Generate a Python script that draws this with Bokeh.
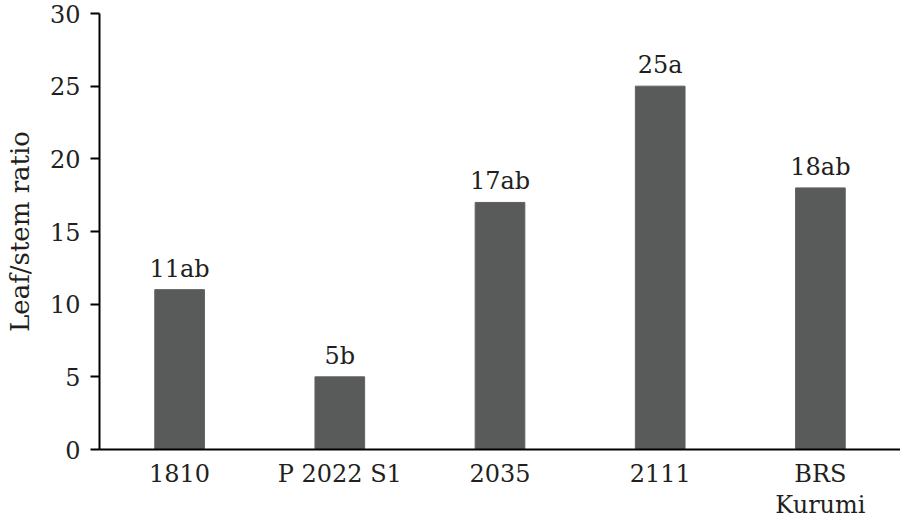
from bokeh.plotting import figure
from bokeh.models import (ColumnDataSource, LabelSet, FactorRange, Range1d, FixedTicker,
                          CategoricalAxis, CustomJSTickFormatter)
from bokeh.core.properties import value
from bokeh.embed import file_html
from bokeh.resources import INLINE

cultivars = ["1810", "P 2022 S1", "2035", "2111", "BRS Kurumi"]
tick_line1 = ["1810", "P 2022 S1", "2035", "2111", "BRS"]
tick_line2 = ["", "", "", "", "Kurumi"]
ratio = [11, 5, 17, 25, 18]
letters = ["ab", "b", "ab", "a", "ab"]
y_ticks = [0, 5, 10, 15, 20, 25, 30]
y_title = "Leaf/stem ratio"

labels = [f"{v}{l}" for v, l in zip(ratio, letters)]
src = ColumnDataSource(dict(cat=cultivars, val=ratio, lab=labels))

FONT = "DejaVu Serif"
TXT = "#231f20"
FS = "24px"

p = figure(x_range=FactorRange(*cultivars, range_padding=0), y_range=Range1d(0, 30),
           width=900, height=521, output_backend="svg", toolbar_location=None,
           min_border_left=99, min_border_right=0, min_border_top=13, min_border_bottom=72)
p.outline_line_color = None
p.xgrid.grid_line_color = None
p.ygrid.grid_line_color = None

p.vbar(x="cat", top="val", width=0.31, source=src, fill_color="#595b5a", line_color="#5e605f", line_width=1)

p.add_layout(LabelSet(x="cat", y="val", text="lab", source=src, y_offset=13,
                      text_align="center", text_baseline="alphabetic",
                      text_font=value(FONT), text_font_size=value(FS), text_color=TXT))

p.yaxis.ticker = FixedTicker(ticks=y_ticks)
p.yaxis.axis_label = y_title
p.yaxis.axis_label_text_font = FONT
p.yaxis.axis_label_text_font_size = "26px"
p.yaxis.axis_label_text_font_style = "normal"
p.yaxis.axis_label_text_color = TXT
p.yaxis.axis_label_standoff = 12
p.yaxis.major_label_text_font = FONT
p.yaxis.major_label_text_font_size = FS
p.yaxis.major_label_text_color = TXT
p.yaxis.major_label_standoff = 10
p.yaxis.major_tick_out = 9
p.yaxis.major_tick_in = 0
p.yaxis.minor_tick_line_color = None
p.yaxis.axis_line_color = "black"
p.yaxis.axis_line_width = 2
p.yaxis.major_tick_line_width = 2

p.xaxis.formatter = CustomJSTickFormatter(args=dict(f=cultivars, l=tick_line1),
                                          code="return l[f.indexOf(tick)];")
p.xaxis.major_label_text_font = FONT
p.xaxis.major_label_text_font_size = FS
p.xaxis.major_label_text_color = TXT
p.xaxis.major_label_standoff = 10
p.xaxis.major_tick_line_color = None
p.xaxis.major_tick_out = 0
p.xaxis.major_tick_in = 0
p.xaxis.minor_tick_line_color = None
p.xaxis.axis_line_color = "black"
p.xaxis.axis_line_width = 2

ax2 = CategoricalAxis(formatter=CustomJSTickFormatter(args=dict(f=cultivars, l=tick_line2),
                                                      code="return l[f.indexOf(tick)];"),
                      major_label_text_font=FONT, major_label_text_font_size=FS,
                      major_label_text_color=TXT, major_label_standoff=0,
                      major_tick_line_color=None, major_tick_out=0, major_tick_in=0,
                      minor_tick_line_color=None, axis_line_color=None)
p.add_layout(ax2, "below")

open("out.html", "w").write(file_html(p, INLINE))
